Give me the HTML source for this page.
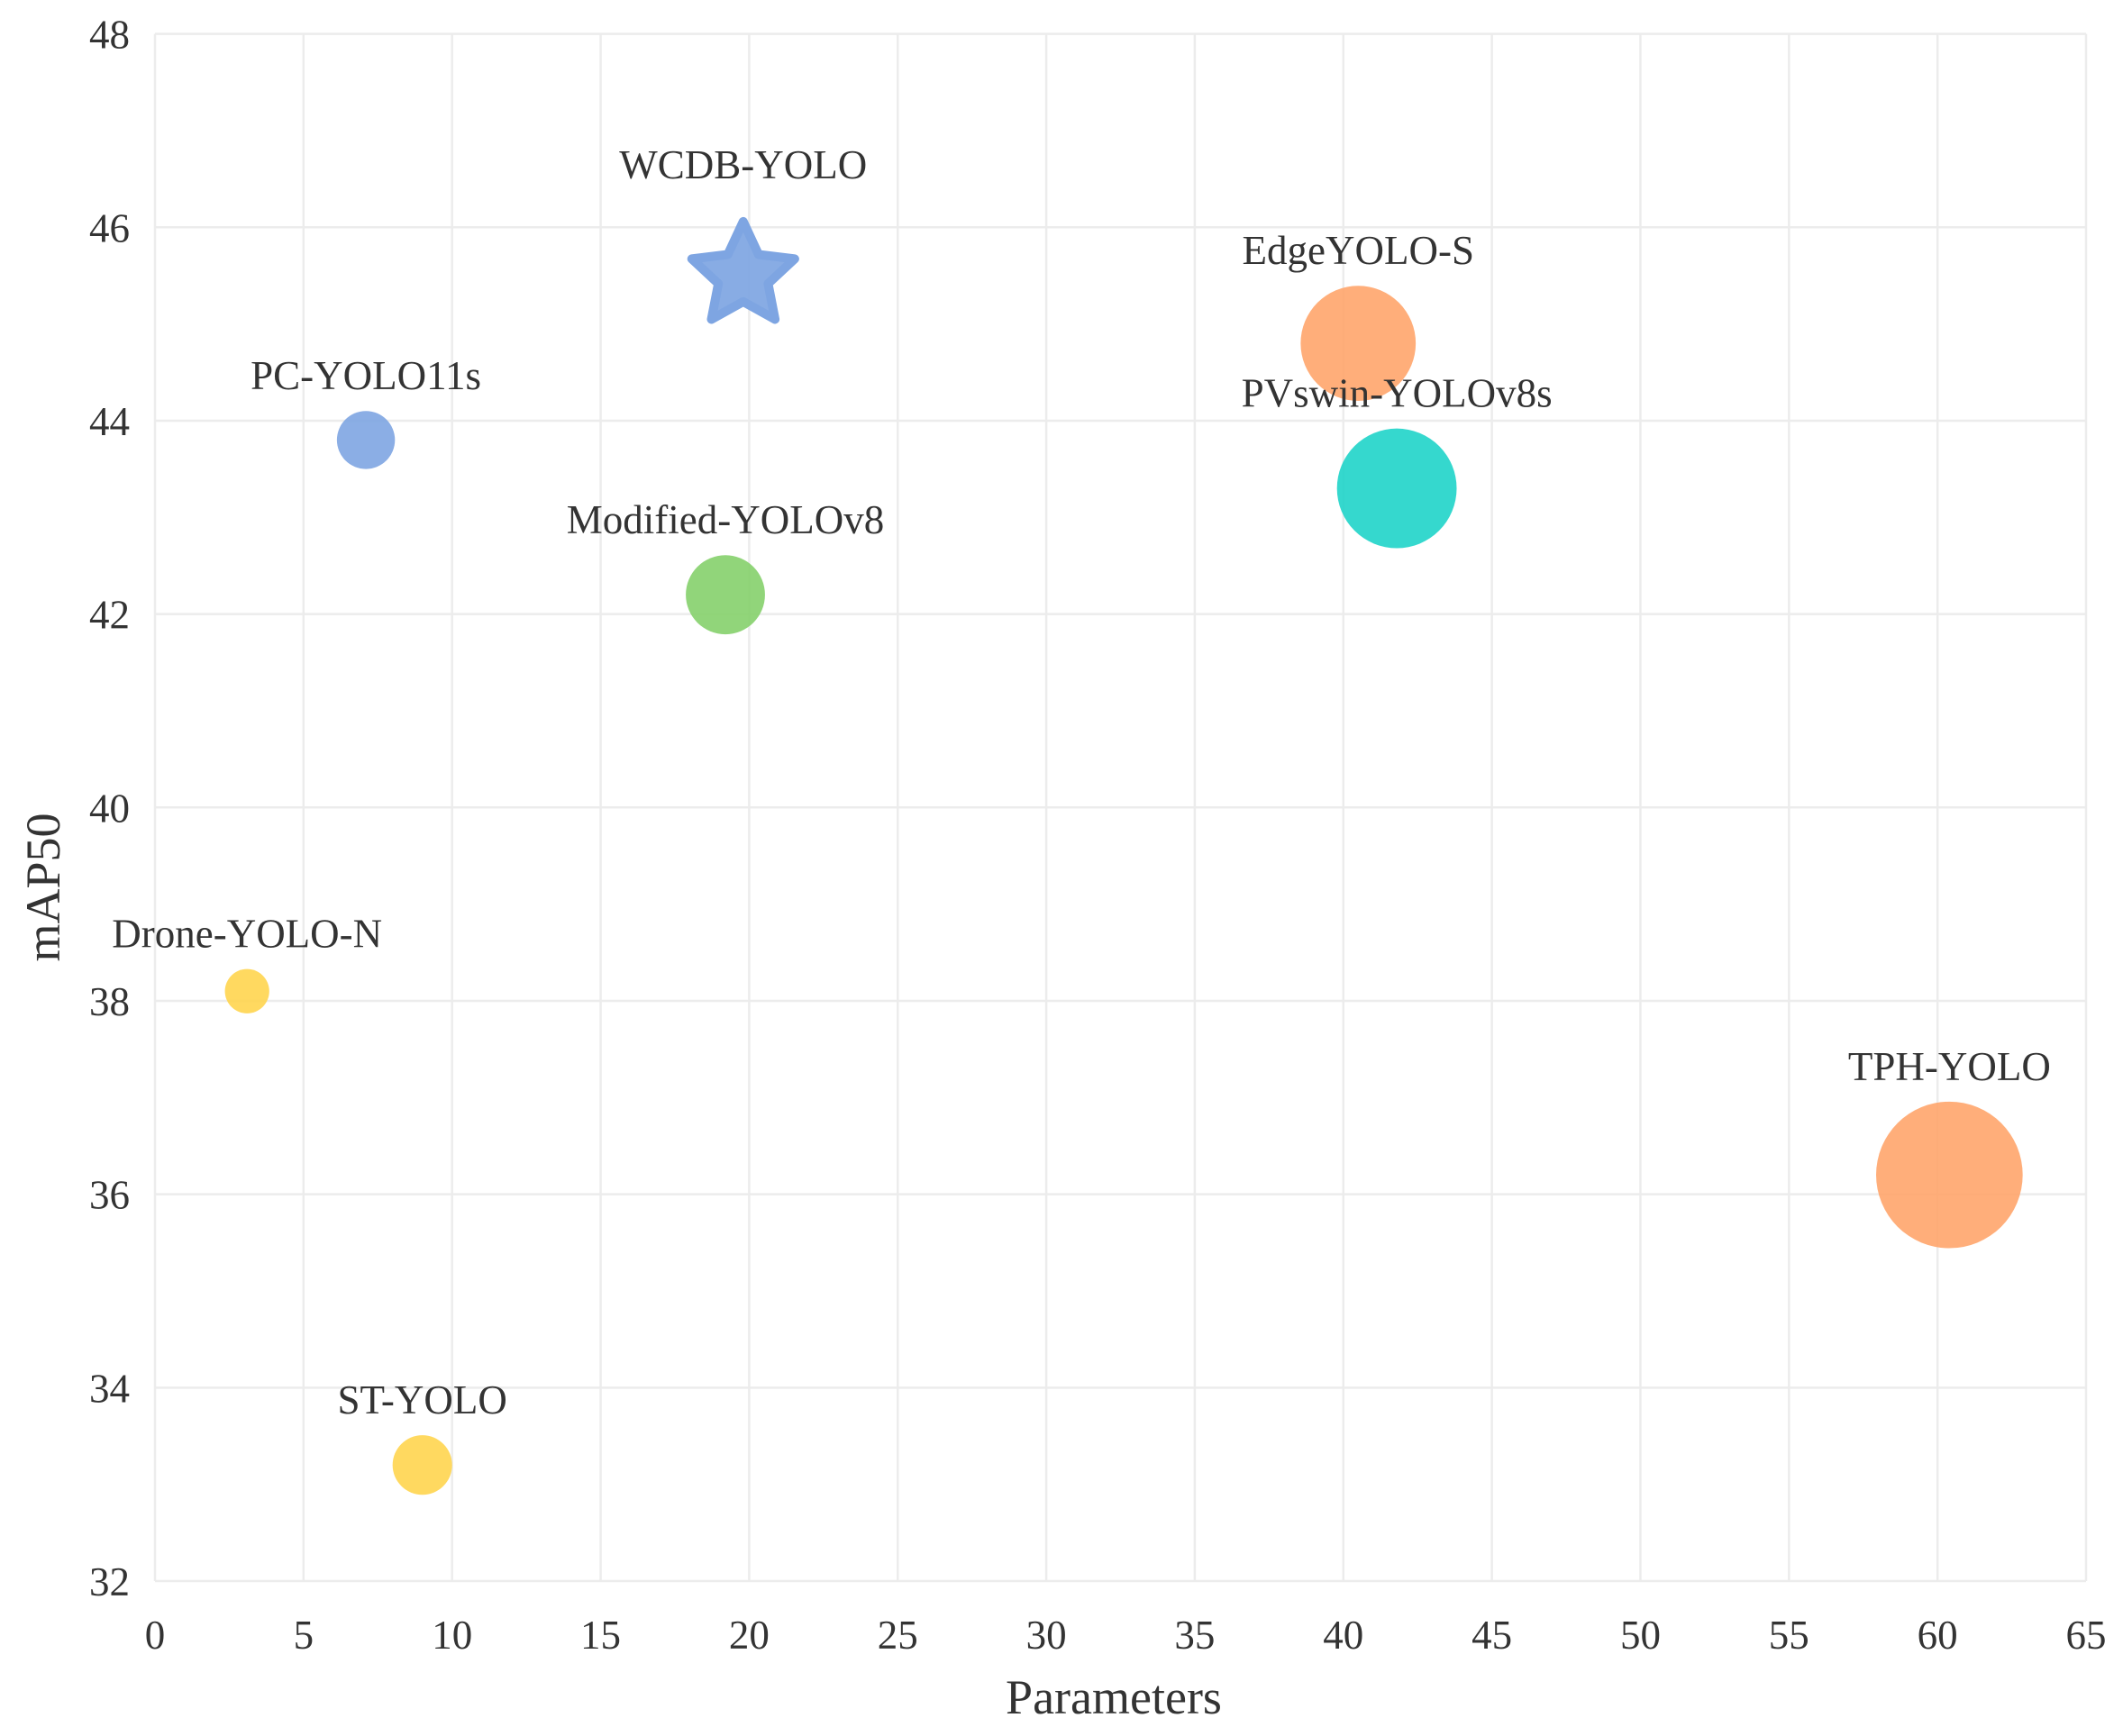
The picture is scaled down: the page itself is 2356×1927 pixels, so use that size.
<!DOCTYPE html>
<html><head><meta charset="utf-8"><style>
html,body{margin:0;padding:0;background:#fff;}
svg{display:block;font-family:"Liberation Serif",serif;}
</style></head><body>
<svg id="chart" width="2356" height="1927" viewBox="0 0 2356 1927" xmlns="http://www.w3.org/2000/svg">
<g id="grid"></g>
<g id="marks"></g>
<g id="labels"></g>
<text x="1236" y="1902" font-size="54" text-anchor="middle" fill="#333">Parameters</text>
<text transform="translate(66,985) rotate(-90)" font-size="54" text-anchor="middle" fill="#333">mAP50</text>
</svg>
<script>
const names=["PC-YOLO11s","WCDB-YOLO","EdgeYOLO-S","PVswin-YOLOv8s","Modified-YOLOv8","Drone-YOLO-N","TPH-YOLO","ST-YOLO"];
const params=[7.1,19.8,40.5,41.8,19.2,3.1,60.4,9.0];
const map50=[43.8,45.5,44.8,43.3,42.2,38.1,36.2,33.2];
const sizes=[9.4,7.0,37.0,40.0,17.5,5.5,60.0,9.9];
const colors=["#7ea5e2","#7ea5e2","#ffa56c","#1fd4c9","#85d06c","#ffd54f","#ffa56c","#ffd54f"];
const xTicks=[0,5,10,15,20,25,30,35,40,45,50,55,60,65];
const yTicks=[32,34,36,38,40,42,44,46,48];
const L=172,R=2315,T=37.6,B=1755;
const sx=v=>L+(v-0)/(65-0)*(R-L);
const sy=v=>B-(v-32)/(48-32)*(B-T);
const rad=s=>Math.sqrt(s)*10.5;
const NS="http://www.w3.org/2000/svg";
function mk(tag,attrs,parent){const e=document.createElementNS(NS,tag);for(const k in attrs)e.setAttribute(k,attrs[k]);parent.appendChild(e);return e;}
const grid=document.getElementById('grid'),marks=document.getElementById('marks'),labels=document.getElementById('labels');
xTicks.forEach(t=>{
  const l=mk('line',{x1:sx(t),x2:sx(t),y1:T,y2:B,stroke:'#ececec','stroke-width':2.5},grid);
  
  
  const tx=mk('text',{x:sx(t),y:B+75,'font-size':45,'text-anchor':'middle',fill:'#333'},grid);
  tx.textContent=t;
  
  
});
yTicks.forEach(t=>{
  const l=mk('line',{x1:L,x2:R,y1:sy(t),y2:sy(t),stroke:'#ececec','stroke-width':2.5},grid);
  
  
  const tx=mk('text',{x:L-28,y:sy(t)+16,'font-size':45,'text-anchor':'end',fill:'#333'},grid);
  tx.textContent=t;
  
  
});
names.forEach((n,i)=>{
  const cx=sx(params[i]),cy=sy(map50[i]);
  let el,top;
  if(n==="WCDB-YOLO"){
    const Ro=60,Ri=29;let pts=[];
    for(let k=0;k<10;k++){const a=-Math.PI/2+k*Math.PI/5;const r=k%2?Ri:Ro;pts.push((cx+r*Math.cos(a)).toFixed(1)+","+(cy+r*Math.sin(a)).toFixed(1));}
    el=mk('polygon',{points:pts.join(' '),fill:colors[i],'fill-opacity':0.92,stroke:colors[i],'stroke-width':10,'stroke-linejoin':'round'},marks);
    top=cy-Ro;
  }else{
    const r=rad(sizes[i]);
    el=mk('circle',{cx:cx,cy:cy,r:r,fill:colors[i],'fill-opacity':0.9},marks);
    top=cy-r;
  }
  
  
  const tx=mk('text',{x:cx,y:top-(n==="WCDB-YOLO"?48:24),'font-size':45,'text-anchor':'middle',fill:'#333'},labels);
  tx.textContent=n;
  
  
});
</script>
</body></html>
